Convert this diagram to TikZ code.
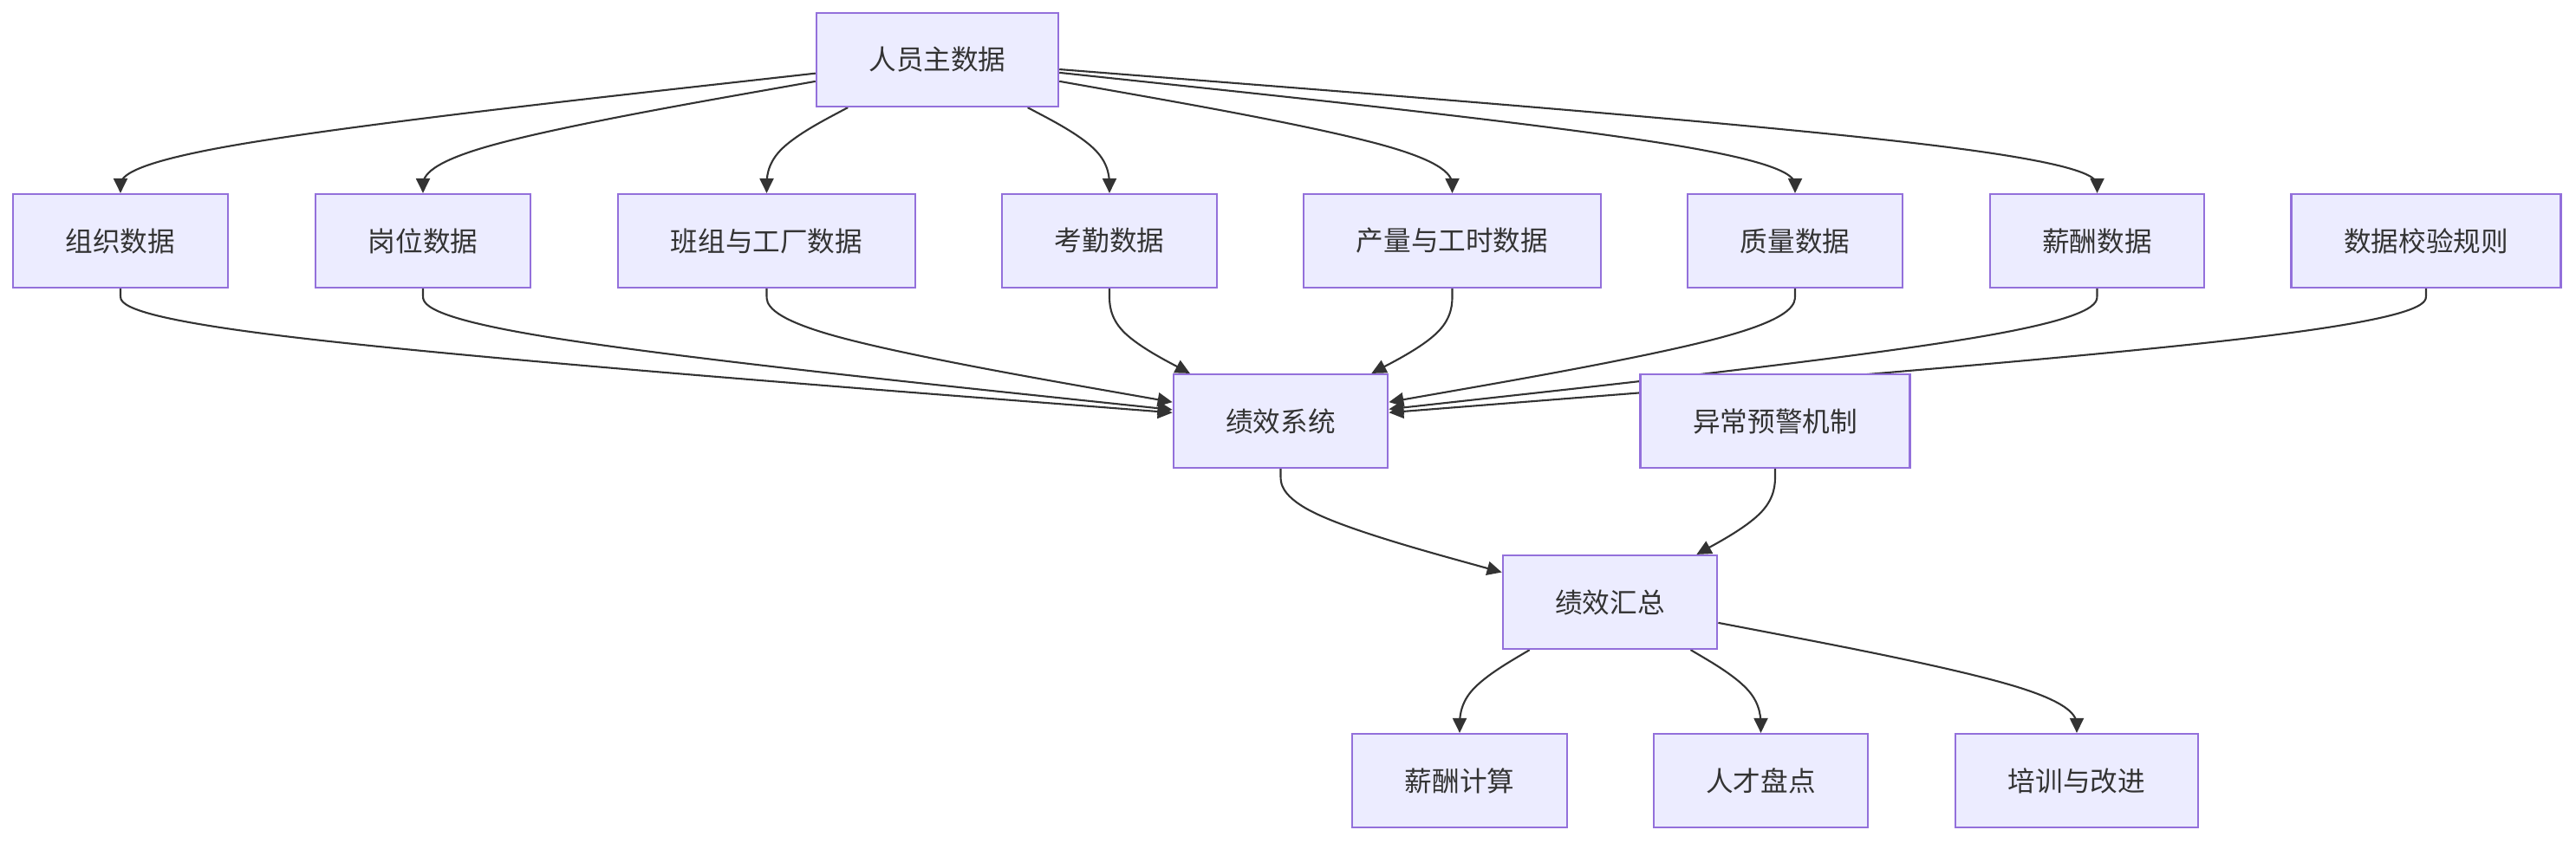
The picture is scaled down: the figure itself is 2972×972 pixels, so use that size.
\documentclass[tikz,border=0pt]{standalone}
\usepackage{fontspec}
\setmainfont{Noto Sans CJK SC}
\usetikzlibrary{arrows.meta,calc,backgrounds}

\definecolor{nodefill}{HTML}{ECECFF}
\definecolor{nodeline}{HTML}{9370DB}
\definecolor{ink}{HTML}{333333}

% edge from #1 to #3 bending through #2 (basis spline)
\newcommand\flow[3]{%
  \path (#1) -- (#2) coordinate[pos=0] (fs);
  \path (#2) -- (#3) coordinate[pos=1] (ft);
  \draw[myflow] (fs) -- ($(fs)!1/6!(#2)$)
    .. controls ($(fs)!1/3!(#2)$) and ($(fs)!2/3!(#2)$) .. ($1/6*(fs)+2/3*(#2)+1/6*(ft)$)
    .. controls ($(#2)!1/3!(ft)$) and ($(#2)!2/3!(ft)$) .. ($(#2)!5/6!(ft)$) -- (ft);
}

\begin{document}
\begin{tikzpicture}[
        x=0.01cm, y=-0.01cm,
        >={Triangle[length=0.17cm,width=0.16cm]},
        font=\fontsize{9}{11}\selectfont,
        mybox/.style={rectangle, draw=nodeline, fill=nodefill, line width=0.6pt,
            text=ink, minimum height=1.08cm, inner xsep=0.605cm, inner ysep=0pt},
        myflow/.style={draw=ink, line width=0.6pt, ->},
    ]
\useasboundingbox (0,0) rectangle (2972,972);

\node[mybox] (main) at (1081.5,69) {人员主数据};

% data sources
\node[mybox] (org) at (139,278) {组织数据};
\node[mybox] (post) at (488,278) {岗位数据};
\node[mybox] (team) at (884.5,278) {班组与工厂数据};
\node[mybox] (attend) at (1280,278) {考勤数据};
\node[mybox] (output) at (1675.5,278) {产量与工时数据};
\node[mybox] (quality) at (2071,278) {质量数据};
\node[mybox] (pay) at (2419.5,278) {薪酬数据};
\node[mybox] (rule) at (2799,278) {数据校验规则};

\node[mybox] (perf) at (1477.5,486) {绩效系统};
\node[mybox] (alert) at (2048,486) {异常预警机制};

\node[mybox] (sum) at (1857.5,695) {绩效汇总};

\node[mybox] (salary) at (1684,901) {薪酬计算};
\node[mybox] (talent) at (2031.5,901) {人才盘点};
\node[mybox] (train) at (2396,901) {培训与改进};

% bend lines between the rows
\coordinate (r1) at (0,174);
\coordinate (r2) at (0,382);
\coordinate (r3) at (0,590);
\coordinate (r4) at (0,798);

\begin{pgfonlayer}{background}
\foreach \t in {org,post,team,attend,output,quality,pay}
    \flow{main}{\t |- r1}{\t};
\foreach \s in {org,post,team,attend,output,quality,pay,rule}
    \flow{\s}{\s |- r2}{perf};
\flow{perf}{perf |- r3}{sum};
\flow{alert}{alert |- r3}{sum};
\foreach \t in {salary,talent,train}
    \flow{sum}{\t |- r4}{\t};
\end{pgfonlayer}

\end{tikzpicture}
\end{document}
